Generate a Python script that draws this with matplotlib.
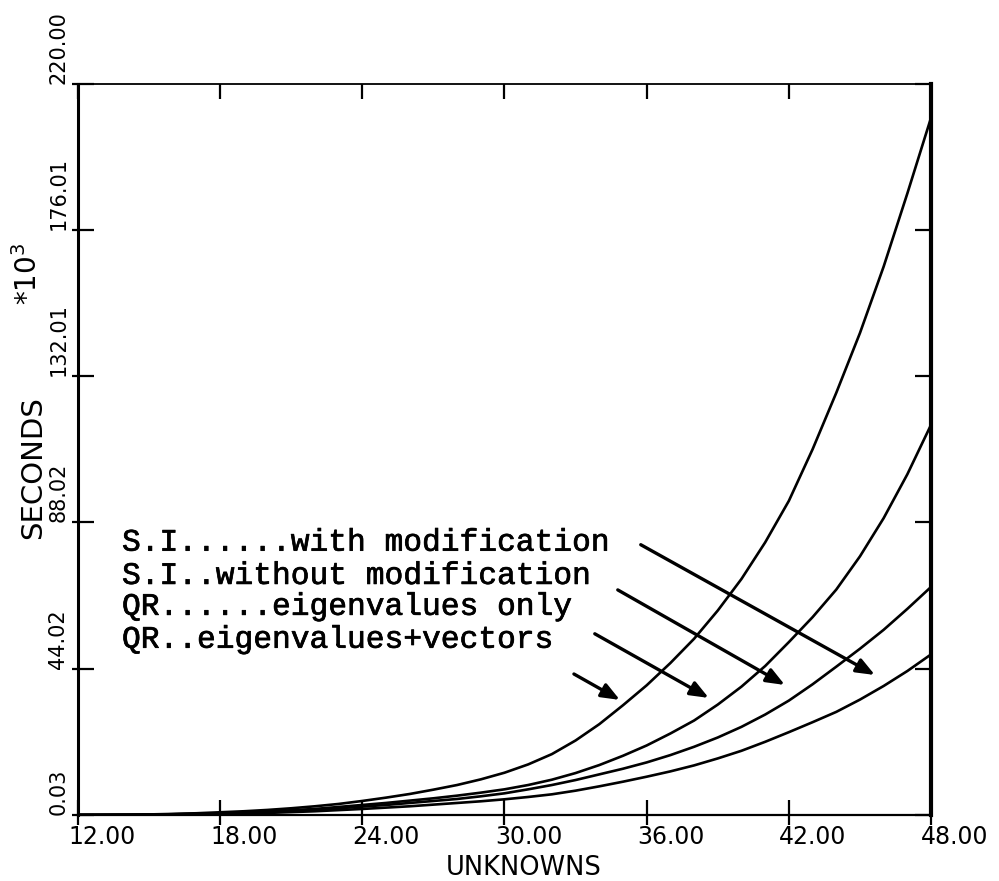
import numpy as np
import matplotlib.pyplot as plt
import matplotlib.patheffects as pe
from matplotlib.transforms import ScaledTranslation

# number of unknowns and cpu time (seconds * 10^3)
unknowns = list(range(12, 49))
si_with_mod = [0, 0.01, 0.03, 0.06, 0.1, 0.2, 0.3, 0.45, 0.6, 0.85, 1.1, 1.45, 1.8,
               2.2, 2.6, 3.1, 3.6, 4.1, 4.7, 5.4, 6.2, 7.3, 8.6, 10.0, 11.5, 13.1,
               14.9, 17.0, 19.3, 22.0, 24.9, 27.9, 31.0, 34.7, 38.8, 43.3, 48.3]
si_without_mod = [0, 0.02, 0.05, 0.1, 0.2, 0.3, 0.45, 0.65, 0.9, 1.2, 1.6, 2.0, 2.5,
                  3.0, 3.6, 4.2, 4.8, 5.6, 6.5, 7.7, 9.0, 10.5, 12.2, 13.9, 15.8, 18.0,
                  20.5, 23.3, 26.5, 30.2, 34.4, 39.3, 44.6, 50.0, 55.7, 62.0, 68.6]
qr_values = [0, 0.02, 0.05, 0.1, 0.2, 0.35, 0.5, 0.75, 1.0, 1.4, 1.8, 2.4, 3.0,
             3.6, 4.3, 5.0, 5.8, 6.7, 7.7, 9.0, 10.6, 12.6, 15.0, 17.8, 20.9, 24.5,
             28.4, 33.2, 38.6, 44.8, 52.0, 59.5, 67.8, 77.8, 89.3, 102.5, 117.4]
qr_vectors = [0, 0.02, 0.05, 0.15, 0.3, 0.5, 0.8, 1.1, 1.5, 2.0, 2.6, 3.3, 4.2,
              5.2, 6.3, 7.6, 9.0, 10.7, 12.7, 15.2, 18.3, 22.4, 27.3, 33.0, 39.0, 45.7,
              53.0, 61.5, 71.0, 82.0, 94.5, 110.0, 127.0, 145.0, 165.0, 187.0, 209.8]

legend_lines = ["S.I......with modification",
                "S.I..without modification",
                "QR......eigenvalues only",
                "QR..eigenvalues+vectors"]
legend_y = [79.5, 69.5, 60.2, 50.3]
# arrows: (tail x, tail y, head x, head y) in data units
arrows = [(35.75, 81.3, 45.63, 42.1),
          (34.78, 67.7, 41.83, 39.1),
          (33.81, 54.5, 38.62, 35.2),
          (32.93, 42.4, 34.87, 34.6)]

x_ticks = [12, 18, 24, 30, 36, 42, 48]
y_ticks = [0.03, 44.02, 88.02, 132.01, 176.01, 220.0]

fig = plt.figure(figsize=(9.99, 8.81), dpi=100)
ax = fig.add_axes([0.078, 0.075, 0.854, 0.830])

for s in [si_with_mod, si_without_mod, qr_values, qr_vectors]:
    ax.plot(unknowns, s, color='black', lw=1.9, solid_capstyle='round')

ax.set_xlim(12, 48)
ax.set_ylim(0, 220)

ax.set_xticks(x_ticks)
ax.set_xticklabels(['%.2f' % t for t in x_ticks])
ax.set_xticks(x_ticks, minor=True)
ax.set_yticks(y_ticks)
ax.set_yticklabels(['%.2f' % t for t in y_ticks])
ax.set_yticks(y_ticks, minor=True)
ax.xaxis.remove_overlapping_locs = False
ax.yaxis.remove_overlapping_locs = False

ax.tick_params(axis='x', which='major', direction='in', length=11, width=1.6,
               top=True, bottom=True, pad=7, labelsize=17)
ax.tick_params(axis='x', which='minor', direction='out', length=7, width=1.6,
               top=False, bottom=True)
ax.tick_params(axis='y', which='major', direction='in', length=11.5, width=1.6,
               left=True, right=True, pad=7, labelsize=15)
ax.tick_params(axis='y', which='minor', direction='out', length=4.5, width=1.6,
               left=True, right=False)

off = ScaledTranslation(0.24, 0, fig.dpi_scale_trans)
for lab in ax.get_xticklabels():
    lab.set_transform(lab.get_transform() + off)
for lab in ax.get_yticklabels():
    lab.set_rotation(90)
    lab.set_va('bottom')
    lab.set_ha('right')

ax.spines['left'].set_linewidth(2.2)
ax.spines['right'].set_linewidth(3.0)
ax.spines['bottom'].set_linewidth(1.6)
ax.spines['top'].set_linewidth(1.3)

ax.text(0.522, -0.055, 'UNKNOWNS', transform=ax.transAxes, ha='center', va='top', fontsize=18.5)
ax.text(-0.0528, 0.4747, 'SECONDS', transform=ax.transAxes, rotation=90,
        ha='center', va='center', fontsize=21)
ax.text(-0.0586, 0.740, '*10$^{3}$', transform=ax.transAxes, rotation=90,
        ha='center', va='center', fontsize=20)

for txt, yy in zip(legend_lines, legend_y):
    ax.text(13.86, yy, txt, family='Liberation Mono', fontsize=22.5,
            va='baseline', ha='left',
            path_effects=[pe.withStroke(linewidth=0.5, foreground='black')])

for x0, y0, x1, y1 in arrows:
    ax.annotate('', xy=(x1, y1), xytext=(x0, y0),
                arrowprops=dict(arrowstyle='-|>,head_length=0.55,head_width=0.22',
                                color='black', lw=2.4, mutation_scale=20,
                                shrinkA=0, shrinkB=0))

fig.savefig('out.png', dpi=100)
